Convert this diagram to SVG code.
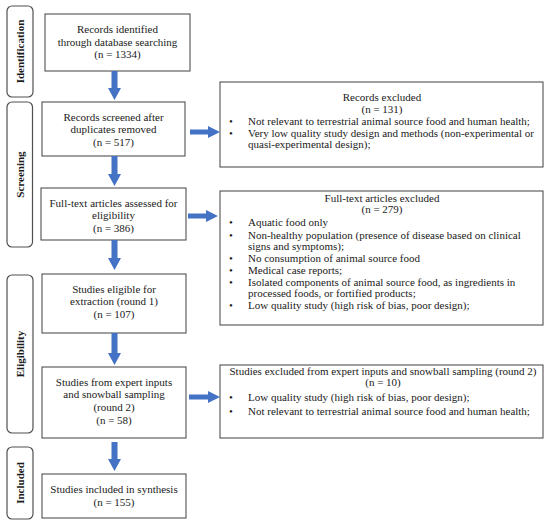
<svg xmlns="http://www.w3.org/2000/svg" width="550" height="526" viewBox="0 0 550 526">
<style>
.bg{fill:#ffffff}
.box{fill:#ffffff;stroke:#404040;stroke-width:1}
.side{fill:#ffffff;stroke:#505050;stroke-width:1.2}
.t{font-family:"Liberation Serif","Times New Roman",Times,serif;font-size:11px;fill:#1a1a1a}
.c{text-anchor:middle}
.s{font-family:"Liberation Serif","Times New Roman",Times,serif;font-size:11px;font-weight:bold;fill:#1a1a1a;text-anchor:middle}
.arr{fill:#4472c4}
</style>
<rect class="bg" x="0" y="0" width="550" height="526"/>

<g id="stage-identification">
<rect class="side" x="7" y="6" width="26" height="91" rx="5"/>
<text class="s" transform="translate(24,51.5) rotate(-90)">Identification</text>
</g>
<g id="stage-screening">
<rect class="side" x="7" y="102" width="25.5" height="145" rx="5"/>
<text class="s" transform="translate(24,174.5) rotate(-90)">Screening</text>
</g>
<g id="stage-eligibility">
<rect class="side" x="7" y="275" width="26" height="158" rx="5"/>
<text class="s" transform="translate(24,354) rotate(-90)">Eligibility</text>
</g>
<g id="stage-included">
<rect class="side" x="7" y="447" width="26" height="72" rx="5"/>
<text class="s" transform="translate(24,483) rotate(-90)">Included</text>
</g>

<g id="records-identified">
<rect class="box" x="45" y="14" width="145" height="57"/>
<text class="t c" x="117.5" y="33">Records identified</text>
<text class="t c" x="117.5" y="45.5">through database searching</text>
<text class="t c" x="117.5" y="57.5">(n = 1334)</text>
</g>
<g id="records-screened">
<rect class="box" x="42" y="102" width="143" height="54"/>
<text class="t c" x="113.5" y="121">Records screened after</text>
<text class="t c" x="113.5" y="133">duplicates removed</text>
<text class="t c" x="113.5" y="145.5">(n = 517)</text>
</g>
<g id="fulltext-assessed">
<rect class="box" x="41" y="188" width="145" height="52"/>
<text class="t c" x="113.5" y="207">Full-text articles assessed for</text>
<text class="t c" x="113.5" y="219">eligibility</text>
<text class="t c" x="113.5" y="231.5">(n = 386)</text>
</g>
<g id="studies-eligible">
<rect class="box" x="42" y="274" width="144" height="59"/>
<text class="t c" x="114" y="292.5">Studies eligible for</text>
<text class="t c" x="114" y="305">extraction (round 1)</text>
<text class="t c" x="114" y="318">(n = 107)</text>
</g>
<g id="studies-expert">
<rect class="box" x="42" y="367" width="144" height="71"/>
<text class="t c" x="114" y="386">Studies from expert inputs</text>
<text class="t c" x="114" y="398">and snowball sampling</text>
<text class="t c" x="114" y="411">(round 2)</text>
<text class="t c" x="114" y="423.5">(n = 58)</text>
</g>
<g id="studies-included">
<rect class="box" x="42" y="474" width="144" height="44"/>
<text class="t c" x="114" y="493">Studies included in synthesis</text>
<text class="t c" x="114" y="506">(n = 155)</text>
</g>

<g id="records-excluded">
<rect class="box" x="220" y="82" width="323" height="85"/>
<text class="t c" x="382" y="101">Records excluded</text>
<text class="t c" x="382" y="113">(n = 131)</text>
<text class="t" x="229" y="125">•</text>
<text class="t" x="248" y="125">Not relevant to terrestrial animal source food and human health;</text>
<text class="t" x="229" y="136.5">•</text>
<text class="t" x="248" y="136.5">Very low quality study design and methods (non-experimental or</text>
<text class="t" x="248" y="147.5">quasi-experimental design);</text>
</g>
<g id="fulltext-excluded">
<rect class="box" x="220" y="191" width="323" height="134"/>
<text class="t c" x="382" y="202">Full-text articles excluded</text>
<text class="t c" x="382" y="213">(n = 279)</text>
<text class="t" x="229" y="226">•</text>
<text class="t" x="248" y="226">Aquatic food only</text>
<text class="t" x="229" y="238.5">•</text>
<text class="t" x="248" y="238.5">Non-healthy population (presence of disease based on clinical</text>
<text class="t" x="248" y="249.5">signs and symptoms);</text>
<text class="t" x="229" y="262">•</text>
<text class="t" x="248" y="262">No consumption of animal source food</text>
<text class="t" x="229" y="274">•</text>
<text class="t" x="248" y="274">Medical case reports;</text>
<text class="t" x="229" y="286">•</text>
<text class="t" x="248" y="286">Isolated components of animal source food, as ingredients in</text>
<text class="t" x="248" y="297">processed foods, or fortified products;</text>
<text class="t" x="229" y="309">•</text>
<text class="t" x="248" y="309">Low quality study (high risk of bias, poor design);</text>
</g>
<g id="round2-excluded">
<rect class="box" x="220" y="365" width="323" height="73"/>
<text class="t c" x="383" y="375">Studies excluded from expert inputs and snowball sampling (round 2)</text>
<text class="t c" x="383" y="386">(n = 10)</text>
<text class="t" x="229" y="401">•</text>
<text class="t" x="248" y="401">Low quality study (high risk of bias, poor design);</text>
<text class="t" x="229" y="415">•</text>
<text class="t" x="248" y="415">Not relevant to terrestrial animal source food and human health;</text>
</g>

<g id="connectors">
<path class="arr" d="M111.5,71 H117.5 V88 H121 L114.5,100 L108,88 H111.5 Z"/>
<path class="arr" d="M111.5,156 H117.5 V174 H121 L114.5,186 L108,174 H111.5 Z"/>
<path class="arr" d="M111.5,240 H117.5 V258 H121 L114.5,270 L108,258 H111.5 Z"/>
<path class="arr" d="M111.5,333 H117.5 V353 H121 L114.5,365 L108,353 H111.5 Z"/>
<path class="arr" d="M111.5,442 H117.5 V459 H121 L114.5,471 L108,459 H111.5 Z"/>
<path class="arr" d="M190,129.5 H208 V126 L220,132 L208,138 V134.5 H190 Z"/>
<path class="arr" d="M188,213.5 H206 V210 L218,216 L206,222 V218.5 H188 Z"/>
<path class="arr" d="M189,394.5 H208 V391 L220,397 L208,403 V399.5 H189 Z"/>
</g>
</svg>
